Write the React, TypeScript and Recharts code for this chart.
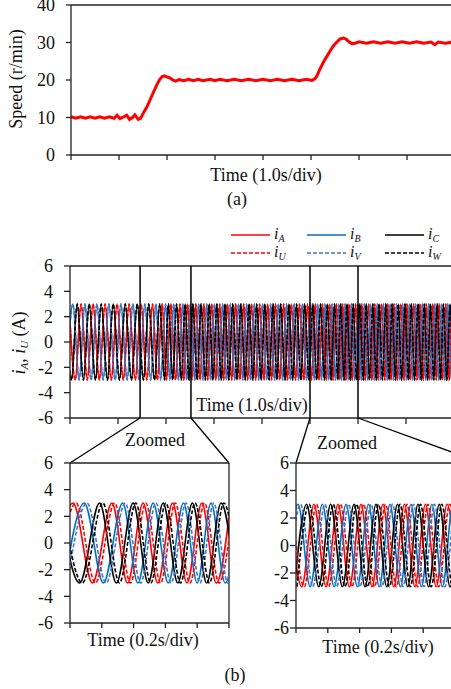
import React from 'react';
import { LineChart, Line, XAxis, YAxis, ReferenceLine } from 'recharts';

// ---- data ----
// (a) speed, time in s (1.0 s/div)
const speedTime = [0, 0.1, 0.2, 0.3, 0.4, 0.5, 0.6, 0.7, 0.8, 0.9, 0.96, 1.02, 1.1, 1.16, 1.22, 1.28, 1.33, 1.4, 1.45, 1.52, 1.58, 1.65, 1.72, 1.78, 1.84, 1.9, 1.95, 2.0, 2.06, 2.12, 2.18, 2.25, 2.35, 2.45, 2.55, 2.65, 2.75, 2.9, 3.0, 3.1, 3.25, 3.4, 3.55, 3.7, 3.85, 4.0, 4.15, 4.3, 4.45, 4.6, 4.75, 4.9, 5.02, 5.08, 5.12, 5.19, 5.26, 5.33, 5.4, 5.46, 5.53, 5.6, 5.67, 5.73, 5.79, 5.85, 5.92, 6.0, 6.15, 6.3, 6.45, 6.6, 6.75, 6.9, 7.05, 7.2, 7.35, 7.5, 7.58, 7.65, 7.8, 7.95];
const speedValue = [10.2, 9.8, 10.2, 9.8, 10.2, 9.8, 10.2, 9.8, 10.2, 9.8, 10.6, 9.7, 10.2, 10.6, 9.5, 10.0, 10.7, 9.5, 9.8, 11.5, 12.8, 14.8, 16.8, 18.5, 20.0, 20.9, 21.1, 20.8, 20.6, 20.0, 19.7, 20.1, 19.8, 20.2, 19.8, 20.2, 19.8, 20.2, 19.8, 20.2, 19.8, 20.2, 19.8, 20.2, 19.8, 20.2, 19.8, 20.2, 19.8, 20.2, 19.8, 20.2, 19.9, 20.3, 21.0, 23.0, 24.8, 26.3, 27.8, 29.0, 30.0, 30.9, 31.2, 30.9, 30.2, 29.7, 29.8, 30.2, 29.8, 30.2, 29.8, 30.2, 29.8, 30.2, 29.8, 30.2, 29.8, 30.1, 29.4, 30.1, 29.8, 30.1];
const speedTicks = [0, 10, 20, 30, 40];
const mainTimeTicks = [0, 1, 2, 3, 4, 5, 6, 7, 8];
const zoomTimeTicks = [0, 0.2, 0.4, 0.6, 0.8, 1.0];
const currentTicks = [-6, -4, -2, 0, 2, 4, 6];

// current amplitude (A)
const PEAK = 3;
const TROUGH = -3;

// (b) main panel: peak / trough times (s) of each phase
const mainPeaksA = [-0.02, 0.23, 0.48, 0.73, 0.98, 1.23, 1.48, 1.72, 1.92, 2.10, 2.29, 2.45, 2.62, 2.79, 2.95, 3.12, 3.28, 3.45, 3.62, 3.78, 3.95, 4.12, 4.28, 4.45, 4.61, 4.78, 4.95, 5.11, 5.26, 5.41, 5.55, 5.68, 5.81, 5.95, 6.08, 6.22, 6.35, 6.49, 6.62, 6.75, 6.89, 7.02, 7.16, 7.29, 7.42, 7.56, 7.69, 7.83, 7.96, 8.09];
const mainTroughsA = [0.11, 0.36, 0.61, 0.86, 1.11, 1.36, 1.60, 1.82, 2.01, 2.20, 2.37, 2.54, 2.71, 2.87, 3.04, 3.20, 3.37, 3.54, 3.70, 3.87, 4.04, 4.20, 4.37, 4.53, 4.70, 4.87, 5.03, 5.19, 5.34, 5.48, 5.62, 5.75, 5.88, 6.02, 6.15, 6.29, 6.42, 6.56, 6.69, 6.82, 6.96, 7.09, 7.23, 7.36, 7.49, 7.63, 7.76, 7.90, 8.03];
const mainPeaksB = [0.06, 0.31, 0.56, 0.81, 1.06, 1.31, 1.56, 1.79, 1.99, 2.16, 2.35, 2.51, 2.68, 2.85, 3.01, 3.18, 3.34, 3.51, 3.68, 3.84, 4.01, 4.18, 4.34, 4.51, 4.67, 4.84, 5.01, 5.16, 5.31, 5.46, 5.60, 5.73, 5.86, 6.00, 6.13, 6.26, 6.40, 6.53, 6.67, 6.80, 6.93, 7.07, 7.20, 7.34, 7.47, 7.60, 7.74, 7.87, 8.01];
const mainTroughsB = [-0.07, 0.19, 0.44, 0.69, 0.94, 1.19, 1.44, 1.68, 1.89, 2.08, 2.26, 2.43, 2.60, 2.77, 2.93, 3.10, 3.26, 3.43, 3.60, 3.76, 3.93, 4.10, 4.26, 4.43, 4.59, 4.76, 4.93, 5.09, 5.24, 5.39, 5.53, 5.66, 5.80, 5.93, 6.07, 6.20, 6.34, 6.47, 6.61, 6.74, 6.87, 7.01, 7.14, 7.28, 7.41, 7.54, 7.68, 7.81, 7.95, 8.08];
const mainPeaksC = [-0.10, 0.15, 0.40, 0.65, 0.90, 1.15, 1.40, 1.64, 1.87, 2.05, 2.22, 2.40, 2.56, 2.73, 2.90, 3.06, 3.23, 3.39, 3.56, 3.73, 3.89, 4.06, 4.23, 4.39, 4.56, 4.72, 4.89, 5.06, 5.22, 5.36, 5.51, 5.64, 5.77, 5.90, 6.04, 6.17, 6.31, 6.44, 6.58, 6.71, 6.84, 6.98, 7.11, 7.25, 7.38, 7.51, 7.65, 7.78, 7.92, 8.05];
const mainTroughsC = [0.03, 0.28, 0.53, 0.78, 1.03, 1.28, 1.53, 1.76, 1.97, 2.14, 2.32, 2.48, 2.65, 2.82, 2.98, 3.15, 3.31, 3.48, 3.65, 3.81, 3.98, 4.15, 4.31, 4.48, 4.64, 4.81, 4.98, 5.14, 5.30, 5.44, 5.58, 5.71, 5.84, 5.97, 6.11, 6.24, 6.38, 6.51, 6.65, 6.78, 6.91, 7.05, 7.18, 7.32, 7.45, 7.58, 7.72, 7.85, 7.99, 8.12];

// zoom windows marked on the main panel (s)
const zoomWindows = [1.46, 2.52, 5.0, 6.0];

// left zoom (0.2 s/div)
const lPeaksA = [0.019, 0.264, 0.460, 0.645, 0.829, 1.011];
const lTroughsA = [-0.107, 0.141, 0.362, 0.552, 0.736, 0.920];
const lPeaksU = [0.038, 0.281, 0.477, 0.662, 0.846, 1.028];
const lTroughsU = [-0.088, 0.160, 0.380, 0.570, 0.754, 0.937];
const lPeaksB = [0.090, 0.331, 0.523, 0.714, 0.887, 1.067];
const lTroughsB = [-0.035, 0.210, 0.427, 0.618, 0.800, 0.976];
const lPeaksV = [0.107, 0.347, 0.540, 0.730, 0.904, 1.084];
const lTroughsV = [-0.018, 0.227, 0.444, 0.635, 0.817, 0.993];
const lPeaksC = [-0.065, 0.186, 0.397, 0.586, 0.770, 0.950];
const lTroughsC = [0.061, 0.292, 0.492, 0.678, 0.860, 1.041];
const lPeaksW = [-0.048, 0.207, 0.414, 0.603, 0.787, 0.967];
const lTroughsW = [0.078, 0.311, 0.508, 0.695, 0.877, 1.058];

// right zoom (0.2 s/div)
const rPeaksA = [-0.041, 0.113, 0.264, 0.409, 0.547, 0.682, 0.814, 0.950];
const rTroughsA = [0.036, 0.189, 0.336, 0.478, 0.615, 0.748, 0.882, 1.016];
const rPeaksU = [-0.025, 0.129, 0.280, 0.425, 0.563, 0.698, 0.830, 0.966];
const rTroughsU = [0.052, 0.205, 0.352, 0.494, 0.631, 0.764, 0.898, 1.032];
const rPeaksB = [0.013, 0.166, 0.315, 0.456, 0.591, 0.723, 0.855, 0.987];
const rTroughsB = [-0.064, 0.089, 0.240, 0.386, 0.524, 0.657, 0.789, 0.921, 1.053];
const rPeaksV = [0.029, 0.182, 0.331, 0.472, 0.607, 0.739, 0.871, 1.003];
const rTroughsV = [-0.048, 0.105, 0.256, 0.402, 0.540, 0.673, 0.805, 0.937, 1.069];
const rPeaksC = [0.067, 0.218, 0.365, 0.503, 0.638, 0.767, 0.901, 1.035];
const rTroughsC = [-0.010, 0.143, 0.292, 0.434, 0.571, 0.703, 0.834, 0.969];
const rPeaksW = [0.083, 0.234, 0.381, 0.519, 0.654, 0.783, 0.917, 1.051];
const rTroughsW = [0.006, 0.159, 0.308, 0.450, 0.587, 0.719, 0.850, 0.985];

// ---- styles ----
const FONT = '"Liberation Serif", "Times New Roman", serif';
const RED = '#ff0000';
const BLUE = '#0070c0';
const BLUE_DASH = '#4472c4';
const BLACK = '#000000';
const AXIS = '#222222';
const DASH = '4 2';

const wave = (peaks: number[], troughs: number[]) =>
  [...peaks.map((t) => ({ t, v: PEAK })), ...troughs.map((t) => ({ t, v: TROUGH }))].sort((a, b) => a.t - b.t);

const speedData = speedTime.map((t, i) => ({ t, v: speedValue[i] }));

const mainSeries = [
  { key: 'iA', data: wave(mainPeaksA, mainTroughsA), color: RED, dash: undefined },
  { key: 'iB', data: wave(mainPeaksB, mainTroughsB), color: BLUE, dash: undefined },
  { key: 'iC', data: wave(mainPeaksC, mainTroughsC), color: BLACK, dash: undefined },
  { key: 'iU', data: wave(mainPeaksA, mainTroughsA), color: RED, dash: DASH },
  { key: 'iV', data: wave(mainPeaksB, mainTroughsB), color: BLUE_DASH, dash: DASH },
  { key: 'iW', data: wave(mainPeaksC, mainTroughsC), color: BLACK, dash: DASH },
];

const leftSeries = [
  { key: 'iA', data: wave(lPeaksA, lTroughsA), color: RED, dash: undefined },
  { key: 'iB', data: wave(lPeaksB, lTroughsB), color: BLUE, dash: undefined },
  { key: 'iC', data: wave(lPeaksC, lTroughsC), color: BLACK, dash: undefined },
  { key: 'iU', data: wave(lPeaksU, lTroughsU), color: RED, dash: DASH },
  { key: 'iV', data: wave(lPeaksV, lTroughsV), color: BLUE_DASH, dash: DASH },
  { key: 'iW', data: wave(lPeaksW, lTroughsW), color: BLACK, dash: DASH },
];

const rightSeries = [
  { key: 'iA', data: wave(rPeaksA, rTroughsA), color: RED, dash: undefined },
  { key: 'iB', data: wave(rPeaksB, rTroughsB), color: BLUE, dash: undefined },
  { key: 'iC', data: wave(rPeaksC, rTroughsC), color: BLACK, dash: undefined },
  { key: 'iU', data: wave(rPeaksU, rTroughsU), color: RED, dash: DASH },
  { key: 'iV', data: wave(rPeaksV, rTroughsV), color: BLUE_DASH, dash: DASH },
  { key: 'iW', data: wave(rPeaksW, rTroughsW), color: BLACK, dash: DASH },
];

const axisLine = { stroke: AXIS, strokeWidth: 1.3 };
const tickStyle = { fill: '#111', fontSize: 18, fontFamily: FONT, style: { fontFamily: FONT } };
const noTick = () => <g />;

const abs = (left: number, top: number): React.CSSProperties => ({ position: 'absolute', left, top, fontFamily: FONT });

function Txt({ x, y, children, rotate }: { x: number; y: number; children: React.ReactNode; rotate?: boolean }) {
  return (
    <div
      style={{
        position: 'absolute',
        left: x,
        top: y,
        transform: `translate(-50%, -50%)${rotate ? ' rotate(-90deg)' : ''}`,
        whiteSpace: 'nowrap',
        fontFamily: FONT,
        fontSize: 18,
        lineHeight: 1,
        color: '#111',
      }}
    >
      {children}
    </div>
  );
}

const Sym = ({ s, sub = 11 }: { s: string; sub?: number }) => (
  <span style={{ fontStyle: 'italic' }}>
    i<span style={{ fontSize: sub, position: 'relative', top: 3 }}>{s}</span>
  </span>
);

function renderWaves(series: typeof mainSeries, width: number) {
  return series.map((s) => (
    <Line
      key={s.key}
      data={s.data}
      dataKey="v"
      type="monotone"
      stroke={s.color}
      strokeWidth={width}
      strokeDasharray={s.dash}
      dot={false}
      activeDot={false}
      isAnimationActive={false}
    />
  ));
}

const legendItems = [
  { x: 231, y: 235, color: RED, dash: undefined, s: 'A' },
  { x: 307, y: 235, color: BLUE, dash: undefined, s: 'B' },
  { x: 385, y: 235, color: BLACK, dash: undefined, s: 'C' },
  { x: 231, y: 253, color: RED, dash: DASH, s: 'U' },
  { x: 307, y: 253, color: BLUE_DASH, dash: DASH, s: 'V' },
  { x: 385, y: 253, color: BLACK, dash: DASH, s: 'W' },
];

export default function App() {
  return (
    <div style={{ position: 'absolute', left: 0, top: 0, width: 451, height: 689, overflow: 'hidden', background: '#fff', fontFamily: FONT }}>
      {/* (a) speed */}
      <div style={abs(0, 0)}>
        <LineChart width={465} height={175} margin={{ top: 5, right: 10, bottom: 0, left: 0 }}>
          <XAxis type="number" dataKey="t" domain={[0, 8]} ticks={mainTimeTicks} interval={0} tick={noTick} tickSize={5} height={20} axisLine={axisLine} tickLine={axisLine} allowDataOverflow />
          <YAxis type="number" domain={[0, 40]} ticks={speedTicks} interval={0} width={71} tickSize={5} tickMargin={11} tick={tickStyle} axisLine={axisLine} tickLine={axisLine} />
          <ReferenceLine y={40} stroke={AXIS} strokeWidth={1.3} />
          <Line data={speedData} dataKey="v" type="linear" stroke={RED} strokeWidth={3} dot={false} activeDot={false} isAnimationActive={false} />
        </LineChart>
      </div>
      <Txt x={16} y={79} rotate>Speed (r/min)</Txt>
      <Txt x={266} y={175}>Time (1.0s/div)</Txt>
      <Txt x={237} y={199}>(a)</Txt>

      {/* legend */}
      <svg width={451} height={689} style={{ position: 'absolute', left: 0, top: 0, pointerEvents: 'none' }}>
        {legendItems.map((l) => (
          <line key={l.s} x1={l.x} x2={l.x + 39} y1={l.y} y2={l.y} stroke={l.color} strokeWidth={1.5} strokeDasharray={l.dash} />
        ))}
      </svg>
      {legendItems.map((l) => (
        <div key={l.s} style={{ position: 'absolute', left: l.x + 43, top: l.y - 9, fontFamily: FONT, fontSize: 16, lineHeight: 1, color: '#111' }}>
          <Sym s={l.s} sub={10} />
        </div>
      ))}

      {/* (b) main currents */}
      <div style={abs(0, 250)}>
        <LineChart width={464} height={180} margin={{ top: 16, right: 10, bottom: 0, left: 0 }}>
          <XAxis type="number" dataKey="t" domain={[0, 8]} ticks={mainTimeTicks} interval={0} tick={noTick} tickSize={6} height={12} axisLine={axisLine} tickLine={axisLine} allowDataOverflow />
          <YAxis type="number" domain={[-6, 6]} ticks={currentTicks} interval={0} width={70} tickSize={6} tickMargin={11} tick={tickStyle} axisLine={axisLine} tickLine={axisLine} allowDataOverflow />
          <ReferenceLine y={6} stroke={AXIS} strokeWidth={1.3} />
          {renderWaves(mainSeries, 1.5)}
          {zoomWindows.map((x) => (
            <ReferenceLine key={x} x={x} stroke={BLACK} strokeWidth={1.5} />
          ))}
        </LineChart>
      </div>
      <Txt x={19} y={343} rotate>
        <Sym s="A" />, <Sym s="U" /> (A)
      </Txt>
      <Txt x={252} y={405}>Time (1.0s/div)</Txt>

      {/* connectors */}
      <svg width={451} height={689} style={{ position: 'absolute', left: 0, top: 0, pointerEvents: 'none' }}>
        <line x1={140} y1={418} x2={70} y2={463} stroke={BLACK} strokeWidth={1.3} />
        <line x1={191} y1={418} x2={229} y2={463} stroke={BLACK} strokeWidth={1.3} />
        <line x1={310} y1={418} x2={296} y2={463} stroke={BLACK} strokeWidth={1.3} />
        <line x1={358} y1={418} x2={482} y2={463} stroke={BLACK} strokeWidth={1.3} />
      </svg>
      <Txt x={155} y={440}>Zoomed</Txt>
      <Txt x={347} y={443}>Zoomed</Txt>

      {/* left zoom */}
      <div style={abs(0, 448)}>
        <LineChart width={235} height={187} margin={{ top: 15, right: 6, bottom: 0, left: 0 }}>
          <XAxis type="number" dataKey="t" domain={[0, 1]} ticks={zoomTimeTicks} interval={0} tick={noTick} tickSize={5} height={12} axisLine={axisLine} tickLine={axisLine} allowDataOverflow />
          <YAxis type="number" domain={[-6, 6]} ticks={currentTicks} interval={0} width={70} tickSize={6} tickMargin={11} tick={tickStyle} axisLine={axisLine} tickLine={axisLine} allowDataOverflow />
          <ReferenceLine y={6} stroke={AXIS} strokeWidth={1.3} />
          <ReferenceLine x={1} stroke={AXIS} strokeWidth={1.3} />
          {renderWaves(leftSeries, 1.6)}
        </LineChart>
      </div>
      <Txt x={143} y={640}>Time (0.2s/div)</Txt>

      {/* right zoom */}
      <div style={abs(240, 448)}>
        <LineChart width={221} height={192} margin={{ top: 15, right: 6, bottom: 0, left: 0 }}>
          <XAxis type="number" dataKey="t" domain={[0, 1]} ticks={zoomTimeTicks} interval={0} tick={noTick} tickSize={5} height={12} axisLine={axisLine} tickLine={axisLine} allowDataOverflow />
          <YAxis type="number" domain={[-6, 6]} ticks={currentTicks} interval={0} width={56} tickSize={6} tickMargin={1} tick={tickStyle} axisLine={axisLine} tickLine={axisLine} allowDataOverflow />
          <ReferenceLine y={6} stroke={AXIS} strokeWidth={1.3} />
          {renderWaves(rightSeries, 1.6)}
        </LineChart>
      </div>
      <Txt x={378} y={647}>Time (0.2s/div)</Txt>
      <Txt x={235} y={675}>(b)</Txt>
    </div>
  );
}
